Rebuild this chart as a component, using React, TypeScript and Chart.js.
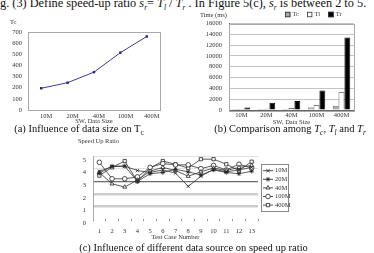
import React, { useEffect, useRef } from 'react';
import { Chart, registerables } from 'chart.js';
import { drawPoint } from 'chart.js/helpers';

Chart.register(...registerables);

// ---------- data ----------
const sizeLabels = ['10M', '20M', '40M', '100M', '400M'];
const tcLine = [195, 245, 340, 515, 660];
const tcBars = [170, 190, 250, 460, 780];
const tlBars = [190, 210, 380, 900, 3300];
const trBars = [450, 1300, 1650, 3600, 13400];

const caseLabels = ['1', '2', '3', '4', '5', '6', '7', '8', '9', '10', '11', '12', '13'];
const speed10M = [3.8, 4.15, 4.2, 3.85, 3.7, 3.9, 3.65, 2.6, 3.4, 3.95, 3.75, 3.9, 4.1];
const speed20M = [3.65, 4.2, 4.2, 3.0, 3.6, 3.7, 3.95, 3.75, 3.5, 3.9, 3.7, 3.6, 3.8];
const speed40M = [3.7, 2.8, 2.55, 3.1, 3.8, 4.1, 3.85, 3.4, 3.75, 4.05, 3.85, 4.1, 4.25];
const speed100M = [4.5, 3.2, 3.2, 3.35, 4.1, 4.4, 4.3, 4.3, 4.0, 4.25, 3.9, 4.35, 4.05];
const speed400M = [3.45, 4.1, 4.6, 3.0, 4.05, 4.6, 4.35, 4.05, 4.75, 4.75, 4.35, 3.85, 4.55];
const speedNames = ['10M', '20M', '40M', '100M', '400M'];
const speedStyles = ['crossRot', 'star', 'triangle', 'circle', 'rect'];

// ---------- styles ----------
const FAMILY = '"Liberation Serif", serif';
const tickFont = { family: FAMILY, size: 6.5 };
const TXT = '#333';

// ---------- plugins ----------
const framePlugin = {
  id: 'frame',
  beforeDatasetsDraw(chart: any, _a: any, opts: any) {
    if (!opts || !opts.color) return;
    const { ctx, chartArea: a } = chart;
    ctx.save();
    ctx.strokeStyle = opts.color;
    ctx.lineWidth = 1;
    ctx.strokeRect(Math.round(a.left) + 0.5, Math.round(a.top) + 0.5, Math.round(a.right - a.left), Math.round(a.bottom - a.top));
    ctx.restore();
  },
};

const notesPlugin = {
  id: 'notes',
  afterDraw(chart: any, _a: any, opts: any) {
    const items = (opts && opts.items) || [];
    const { ctx } = chart;
    ctx.save();
    for (const it of items) {
      ctx.font = `${it.size || 6.5}px ${FAMILY}`;
      ctx.fillStyle = it.color || TXT;
      ctx.textAlign = it.align || 'left';
      ctx.textBaseline = 'middle';
      ctx.fillText(it.text, it.x, it.y);
    }
    ctx.restore();
  },
};

const boxLegendPlugin = {
  id: 'boxLegend',
  afterDraw(chart: any, _a: any, opts: any) {
    if (!opts || !opts.display) return;
    const { ctx } = chart;
    const size = opts.box;
    let x = opts.x;
    const y = opts.y;
    ctx.save();
    ctx.font = `${opts.size}px ${FAMILY}`;
    ctx.textBaseline = 'middle';
    ctx.textAlign = 'left';
    chart.data.datasets.forEach((ds: any) => {
      ctx.fillStyle = ds.backgroundColor;
      ctx.fillRect(x, y - size / 2, size, size);
      ctx.strokeStyle = '#333';
      ctx.lineWidth = 0.8;
      ctx.strokeRect(x + 0.5, y - size / 2 + 0.5, size - 1, size - 1);
      ctx.fillStyle = TXT;
      ctx.fillText(ds.label, x + size + 2, y);
      x += size + 2 + ctx.measureText(ds.label).width + opts.gap;
    });
    ctx.restore();
  },
};

const lineLegendPlugin = {
  id: 'lineLegend',
  afterDraw(chart: any, _a: any, opts: any) {
    if (!opts || !opts.display) return;
    const { ctx } = chart;
    ctx.save();
    ctx.strokeStyle = '#888';
    ctx.lineWidth = 1;
    ctx.strokeRect(opts.x + 0.5, opts.y + 0.5, opts.w, opts.h);
    ctx.font = `${opts.size}px ${FAMILY}`;
    ctx.textBaseline = 'middle';
    ctx.textAlign = 'left';
    chart.data.datasets.forEach((ds: any, i: number) => {
      const cy = opts.y + opts.first + i * opts.step;
      const x0 = opts.x + 2;
      ctx.strokeStyle = '#222';
      ctx.lineWidth = 0.8;
      ctx.beginPath();
      ctx.moveTo(x0, cy);
      ctx.lineTo(x0 + 10, cy);
      ctx.stroke();
      ctx.fillStyle = ds.pointBackgroundColor;
      ctx.strokeStyle = '#222';
      drawPoint(ctx, { pointStyle: ds.pointStyle, radius: 2.3, borderWidth: 0.8, rotation: 0 } as any, x0 + 5, cy);
      ctx.fillStyle = TXT;
      ctx.fillText(ds.label, x0 + 12, cy);
    });
    ctx.restore();
  },
};

// ---------- configs ----------
function configA(): any {
  return {
    type: 'line',
    data: {
      labels: sizeLabels,
      datasets: [
        {
          label: 'Tc',
          data: tcLine,
          borderColor: '#3b3b96',
          backgroundColor: '#23237a',
          borderWidth: 1,
          pointStyle: 'rect',
          pointRadius: 1.7,
          pointBorderWidth: 0,
          tension: 0,
        },
      ],
    },
    options: {
      responsive: false,
      animation: false,
      layout: { padding: { left: 0, top: 24, right: 25, bottom: 0 } },
      plugins: {
        legend: { display: false },
        tooltip: { enabled: false },
        frame: { color: '#aaa' },
        notes: { items: [{ text: 'Tc', x: 10, y: 14 }] },
      },
      scales: {
        x: {
          offset: true,
          grid: { display: false, drawTicks: false },
          border: { display: true, color: '#888' },
          ticks: { padding: 2, labelOffset: 5, font: tickFont, color: TXT, maxRotation: 0, autoSkip: false },
          title: { display: true, text: 'SW, Data Size', font: tickFont, color: TXT, padding: { top: 0, bottom: 2.4 } },
          afterFit: (s: any) => { s.height = 18; },
        },
        y: {
          min: 0,
          max: 700,
          ticks: { stepSize: 100, padding: 6, font: tickFont, color: TXT, callback: (v: any) => String(v) },
          grid: { display: false, drawTicks: false },
          border: { display: true, color: '#888' },
          afterFit: (s: any) => { s.width = 28; },
        },
      },
    },
    plugins: [framePlugin, notesPlugin],
  };
}

function configB(): any {
  return {
    type: 'bar',
    data: {
      labels: sizeLabels,
      datasets: [
        { label: 'Tc', data: tcBars, backgroundColor: '#a8a8a8', borderColor: '#444', borderWidth: 0.8 },
        { label: 'Tl', data: tlBars, backgroundColor: '#ffffff', borderColor: '#222', borderWidth: 0.8 },
        { label: 'Tr', data: trBars, backgroundColor: '#000000', borderColor: '#000', borderWidth: 0.8 },
      ],
    },
    options: {
      responsive: false,
      animation: false,
      datasets: { bar: { categoryPercentage: 0.7, barPercentage: 1.0 } },
      layout: { padding: { left: 0, top: 15.5, right: 20, bottom: 0 } },
      plugins: {
        legend: { display: false },
        tooltip: { enabled: false },
        frame: { color: '#aaa' },
        notes: { items: [{ text: 'Time (ms)', x: 13, y: 7 }] },
        boxLegend: { display: true, x: 98, y: 6.5, box: 5.5, gap: 8, size: 6.5 },
      },
      scales: {
        x: {
          grid: { display: false, drawTicks: false },
          border: { display: true, color: '#666' },
          ticks: { padding: 1.5, font: tickFont, color: TXT, maxRotation: 0, autoSkip: false },
          title: { display: true, text: 'SW, Data Size', font: tickFont, color: TXT, padding: { top: 0, bottom: 2 } },
          afterFit: (s: any) => { s.height = 18; },
        },
        y: {
          min: 0,
          max: 16000,
          ticks: { stepSize: 2000, padding: 7, font: tickFont, color: TXT, callback: (v: any) => String(v) },
          grid: {
            drawTicks: false,
            color: (c: any) => (c.tick && c.tick.value === 0 ? 'rgba(0,0,0,0)' : '#c4c4c4'),
            lineWidth: 1,
          },
          border: { display: true, color: '#666' },
          afterFit: (s: any) => { s.width = 42; },
        },
      },
    },
    plugins: [framePlugin, notesPlugin, boxLegendPlugin],
  };
}

function configC(): any {
  const series = [speed10M, speed20M, speed40M, speed100M, speed400M];
  return {
    type: 'line',
    data: {
      labels: caseLabels,
      datasets: series.map((d, i) => ({
        label: speedNames[i],
        data: d,
        borderColor: '#333',
        borderWidth: 0.8,
        pointStyle: speedStyles[i],
        pointRadius: 2.3,
        pointBorderWidth: 0.8,
        pointBorderColor: '#222',
        pointBackgroundColor: i === 1 ? '#222' : '#ffffff',
        tension: 0,
      })),
    },
    options: {
      responsive: false,
      animation: false,
      layout: { padding: { left: 0, top: 22, right: 52, bottom: 0 } },
      plugins: {
        legend: { display: false },
        tooltip: { enabled: false },
        notes: { items: [{ text: 'Speed Up Ratio', x: 18, y: 7 }] },
        lineLegend: { display: true, x: 201, y: 30, w: 27, h: 47, first: 6.7, step: 8.6, size: 6.5 },
      },
      scales: {
        x: {
          offset: true,
          grid: { drawOnChartArea: false, offset: true, tickLength: 2, color: '#999' },
          border: { display: false },
          ticks: { padding: 6.5, font: tickFont, color: TXT, maxRotation: 0, autoSkip: false },
          title: { display: true, text: 'Test Case Number', font: tickFont, color: TXT, padding: { top: 0, bottom: 1.4 } },
          afterFit: (s: any) => { s.height = 23.7; },
        },
        y: {
          min: 0,
          max: 5,
          ticks: { stepSize: 1, padding: 7, labelOffset: 4, font: tickFont, color: TXT, callback: (v: any) => String(v) },
          grid: {
            drawTicks: false,
            color: (c: any) => {
              const v = c.tick ? c.tick.value : 0;
              if (v === 0) return 'rgba(0,0,0,0)';
              if (v === 3) return '#6a6a6a';
              if (v === 1 || v === 2) return '#cdcdcd';
              return '#e2e2e2';
            },
            lineWidth: (c: any) => {
              const v = c.tick ? c.tick.value : 0;
              if (v === 1 || v === 2) return 2.5;
              if (v === 3) return 1.3;
              return 1;
            },
          },
          border: { display: true, color: '#aaa' },
          afterFit: (s: any) => { s.width = 33; },
        },
      },
    },
    plugins: [notesPlugin, lineLegendPlugin],
  };
}

const abs = (left: number, top: number, w: number, h: number): React.CSSProperties => ({
  position: 'absolute', left, top, width: w, height: h,
});

export default function App() {
  const aRef = useRef<HTMLCanvasElement>(null);
  const bRef = useRef<HTMLCanvasElement>(null);
  const cRef = useRef<HTMLCanvasElement>(null);

  useEffect(() => {
    document.body.style.margin = '0';
    const charts = [
      new Chart(aRef.current!, configA()),
      new Chart(bRef.current!, configB()),
      new Chart(cRef.current!, configC()),
    ];
    return () => charts.forEach((c) => c.destroy());
  }, []);

  const caption: React.CSSProperties = {
    position: 'absolute', width: 240, textAlign: 'center', fontSize: 10.5, lineHeight: '12px',
    whiteSpace: 'nowrap', color: '#111', fontFamily: FAMILY,
  };
  const sub: React.CSSProperties = { fontSize: 7.5 };

  return (
    <div style={{ position: 'fixed', left: 0, top: 0, width: 374, height: 253, overflow: 'hidden', background: '#fff', fontFamily: FAMILY }}>
      <div style={{ position: 'absolute', left: 0, top: -3.5, fontSize: 12.3, lineHeight: '12px', whiteSpace: 'nowrap', color: '#111' }}>
        g. (3) Define speed-up ratio <i>s<sub style={sub}>r</sub></i>= <i>T<sub style={sub}>l</sub></i> / <i>T<sub style={sub}>r</sub></i> . In Figure 5(c), <i>s<sub style={sub}>r</sub></i> is between 2 to 5.
      </div>
      <canvas ref={aRef} width={185} height={120} style={abs(0, 8, 185, 120)} />
      <canvas ref={bRef} width={187} height={120} style={abs(187, 8, 187, 120)} />
      <canvas ref={cRef} width={250} height={109} style={abs(60, 134, 250, 109)} />
      <div style={{ ...caption, left: 79 - 120, top: 123 }}>
        (a) Influence of data size on T<sub style={sub}>c</sub>
      </div>
      <div style={{ ...caption, left: 290 - 120, top: 123 }}>
        (b) Comparison among <i>T<sub style={sub}>c</sub></i>, <i>T<sub style={sub}>l</sub></i> and <i>T<sub style={sub}>r</sub></i>
      </div>
      <div style={{ ...caption, left: 193.5 - 120, top: 242 }}>
        (c) Influence of different data source on speed up ratio
      </div>
    </div>
  );
}
